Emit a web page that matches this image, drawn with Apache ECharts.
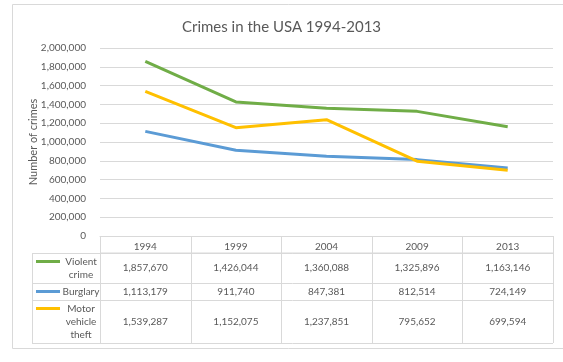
<!DOCTYPE html>
<html><head><meta charset="utf-8">
<script src="https://cdn.jsdelivr.net/npm/echarts@6/dist/echarts.min.js"></script>
<style>html,body{margin:0;padding:0;background:#fff}#c{width:563px;height:362px}</style>
</head><body><div id="c"></div>
<script>
const years = ['1994','1999','2004','2009','2013'];
const violent = [1857670,1426044,1360088,1325896,1163146];
const burglary = [1113179,911740,847381,812514,724149];
const motor = [1539287,1152075,1237851,795652,699594];
const seriesNames = ['Violent\ncrime','Burglary','Motor\nvehicle\ntheft'];
const yTicks = [0,200000,400000,600000,800000,1000000,1200000,1400000,1600000,1800000,2000000];

const colors = ['#70AD47','#5B9BD5','#FFC000'];
const FONT = 'Lato';
const fmt = v => v.toLocaleString('en-US');

const chart = echarts.init(document.getElementById('c'));
const base = {
  animation:false,
  title:{text:'Crimes in the USA 1994-2013',left:'center',top:15,
    textStyle:{fontFamily:FONT,fontSize:15,fontWeight:'normal',color:'#595959'}},
  grid:{left:100,right:10,top:48,bottom:126},
  xAxis:{type:'category',data:years,boundaryGap:true,
    axisLine:{lineStyle:{color:'#d9d9d9'}},axisTick:{show:false},
    axisLabel:{show:true,fontFamily:FONT,fontSize:10,color:'#595959',margin:6}},
  yAxis:{type:'value',min:yTicks[0],max:yTicks[yTicks.length-1],interval:yTicks[1]-yTicks[0],
    name:'Number of crimes',nameLocation:'middle',nameGap:61,nameMoveOverlap:false,
    nameTextStyle:{fontFamily:FONT,fontSize:11,color:'#595959'},
    axisLabel:{fontFamily:FONT,fontSize:10,color:'#595959',margin:14,
      formatter:v=>fmt(v)},
    splitLine:{lineStyle:{color:'#d9d9d9'}},axisLine:{show:false},axisTick:{show:false}},
  series:[
    {name:'Violent crime',type:'line',data:violent,symbol:'none',lineStyle:{width:3,color:colors[0]},itemStyle:{color:colors[0]}},
    {name:'Burglary',type:'line',data:burglary,symbol:'none',lineStyle:{width:3,color:colors[1]},itemStyle:{color:colors[1]}},
    {name:'Motor vehicle theft',type:'line',data:motor,symbol:'none',lineStyle:{width:3,color:colors[2]},itemStyle:{color:colors[2]}}
  ]
};
chart.setOption(base);

// build data table below the axis from the axis scale
const p0 = chart.convertToPixel({xAxisIndex:0,yAxisIndex:0},[0,0]);
const p1 = chart.convertToPixel({xAxisIndex:0,yAxisIndex:0},[1,0]);
const step = p1[0]-p0[0];
const x0 = p0[0]-step/2;
const yAxisY = p0[1];
const rowTops = [yAxisY, yAxisY+17, yAxisY+47, yAxisY+64, yAxisY+107];
const legendLeft = 32;
const lc = '#d9d9d9';
const g = [];
g.push({type:'rect',shape:{x:12.5,y:4.5,width:560,height:344},style:{fill:'none',stroke:lc,lineWidth:1},silent:true,z:-1});
const xEnd = x0+step*years.length;
g.push({type:'line',shape:{x1:x0,y1:rowTops[1],x2:xEnd,y2:rowTops[1]},style:{stroke:lc,lineWidth:1}});
for(let r=1;r<rowTops.length;r++){
  g.push({type:'line',shape:{x1:legendLeft,y1:rowTops[r]+0.5,x2:xEnd,y2:rowTops[r]+0.5},style:{stroke:lc,lineWidth:1}});
}
g.push({type:'line',shape:{x1:legendLeft+0.5,y1:rowTops[1],x2:legendLeft+0.5,y2:rowTops[4]},style:{stroke:lc,lineWidth:1}});
for(let i=0;i<=years.length;i++){
  const x=Math.round(x0+step*i)+0.5;
  g.push({type:'line',shape:{x1:x,y1:rowTops[0],x2:x,y2:rowTops[4]},style:{stroke:lc,lineWidth:1}});
}
const dataRows=[violent,burglary,motor];
for(let r=0;r<3;r++){
  const top=rowTops[r+1], bot=rowTops[r+2], mid=(top+bot)/2;
  const nLines = seriesNames[r].split('\n').length;
  const firstLineY = mid - (nLines-1)*13/2;
  g.push({type:'line',shape:{x1:legendLeft+4,y1:firstLineY,x2:legendLeft+28,y2:firstLineY},style:{stroke:colors[r],lineWidth:3}});
  g.push({type:'text',style:{text:seriesNames[r],x:(legendLeft+28+x0)/2+1,y:mid,align:'center',verticalAlign:'middle',
    font:'10px '+FONT,fill:'#595959',lineHeight:13}});
  for(let i=0;i<years.length;i++){
    const cx = chart.convertToPixel({xAxisIndex:0},i);
    g.push({type:'text',style:{text:fmt(dataRows[r][i]),x:cx,y:mid,align:'center',verticalAlign:'middle',
      font:'10px '+FONT,fill:'#595959'}});
  }
}
chart.setOption({graphic:{elements:g}});
</script></body></html>
